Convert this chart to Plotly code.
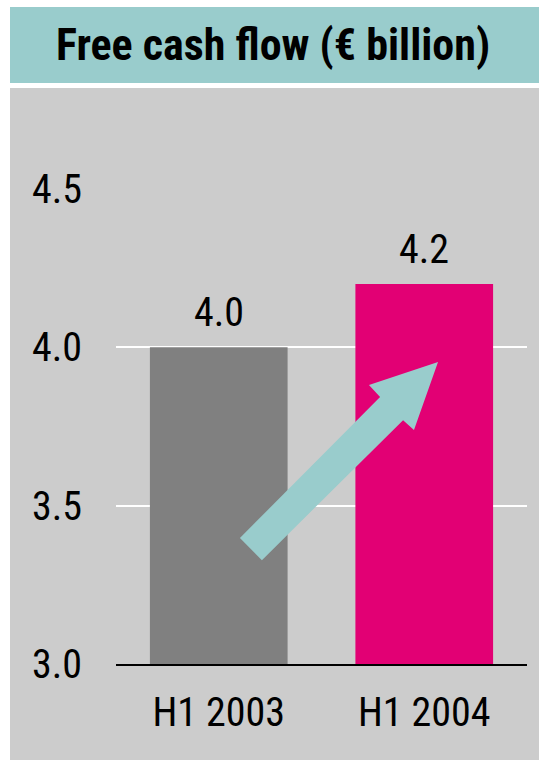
import plotly.graph_objects as go

# Free cash flow, first half-year comparison (EUR billion)
periods = ["H1 2003", "H1 2004"]
free_cash_flow = [4.0, 4.2]
bar_colors = ["#808080", "#e20074"]
y_ticks = [3.0, 3.5, 4.0, 4.5]
y_tick_labels = ["3.0", "3.5", "4.0", "4.5"]

FONT = "Roboto Condensed, Liberation Sans, sans-serif"

W, H = 539, 760
L, R, T, B = 116, 12, 189, 96
pw, ph = W - L - R, H - T - B


def px_x(p):
    return (p - L) / pw


def px_y(p):
    return (H - B - p) / ph


fig = go.Figure()
fig.add_trace(go.Bar(
    x=periods,
    y=free_cash_flow,
    marker=dict(color=bar_colors, line=dict(width=0)),
    width=0.67,
    hoverinfo="skip",
))

shapes = [
    # grey panel behind the chart
    dict(type="rect", xref="paper", yref="paper",
         x0=px_x(10), x1=px_x(539), y0=px_y(760), y1=px_y(88),
         fillcolor="#cccccc", line=dict(width=0), layer="below"),
    # teal title band
    dict(type="rect", xref="paper", yref="paper",
         x0=px_x(10), x1=px_x(539), y0=px_y(83), y1=px_y(7),
         fillcolor="#99cccc", line=dict(width=0), layer="below"),
]

# upward arrow from the 2003 bar to the 2004 bar (category index / value units)
arrow_x = [0.103, 0.210, 0.897, 0.950, 1.067, 0.731, 0.785]
arrow_y = [3.398, 3.328, 3.770, 3.739, 3.954, 3.881, 3.843]
path = "M " + " L ".join(f"{x},{y}" for x, y in zip(arrow_x, arrow_y)) + " Z"
shapes.append(dict(type="path", xref="x", yref="y", path=path,
                   fillcolor="#99cccc", line=dict(width=0), layer="above"))

annotations = [
    dict(text="<b>Free cash flow (€ billion)</b>", xref="paper", yref="paper",
         x=px_x(273), y=px_y(45), xanchor="center", yanchor="middle",
         showarrow=False, font=dict(family=FONT, size=44, color="#000000")),
]
for p, v in zip(periods, free_cash_flow):
    annotations.append(dict(text=f"{v:.1f}", x=p, y=v, xref="x", yref="y",
                            xanchor="center", yanchor="bottom", yshift=9,
                            showarrow=False,
                            font=dict(family=FONT, size=40, color="#000000")))

fig.update_layout(
    width=W, height=H,
    margin=dict(l=L, r=R, t=T, b=B, pad=0),
    paper_bgcolor="#ffffff",
    plot_bgcolor="rgba(0,0,0,0)",
    showlegend=False,
    bargap=0.33,
    shapes=shapes,
    annotations=annotations,
    font=dict(family=FONT, size=40, color="#000000"),
    xaxis=dict(
        type="category", range=[-0.5, 1.5],
        showgrid=False, showline=True, linecolor="#000000", linewidth=1.5,
        ticks="outside", ticklen=12, tickcolor="rgba(0,0,0,0)",
        tickfont=dict(family=FONT, size=40, color="#000000"),
        fixedrange=True,
    ),
    yaxis=dict(
        range=[3.0, 4.5], tickvals=y_ticks, ticktext=y_tick_labels,
        showgrid=True, gridcolor="#ffffff", gridwidth=1.5,
        zeroline=False, showline=False,
        ticks="outside", ticklen=25, tickcolor="rgba(0,0,0,0)",
        tickfont=dict(family=FONT, size=40, color="#000000"),
        fixedrange=True,
    ),
)

fig.write_html("out.html", config={"displayModeBar": False})
